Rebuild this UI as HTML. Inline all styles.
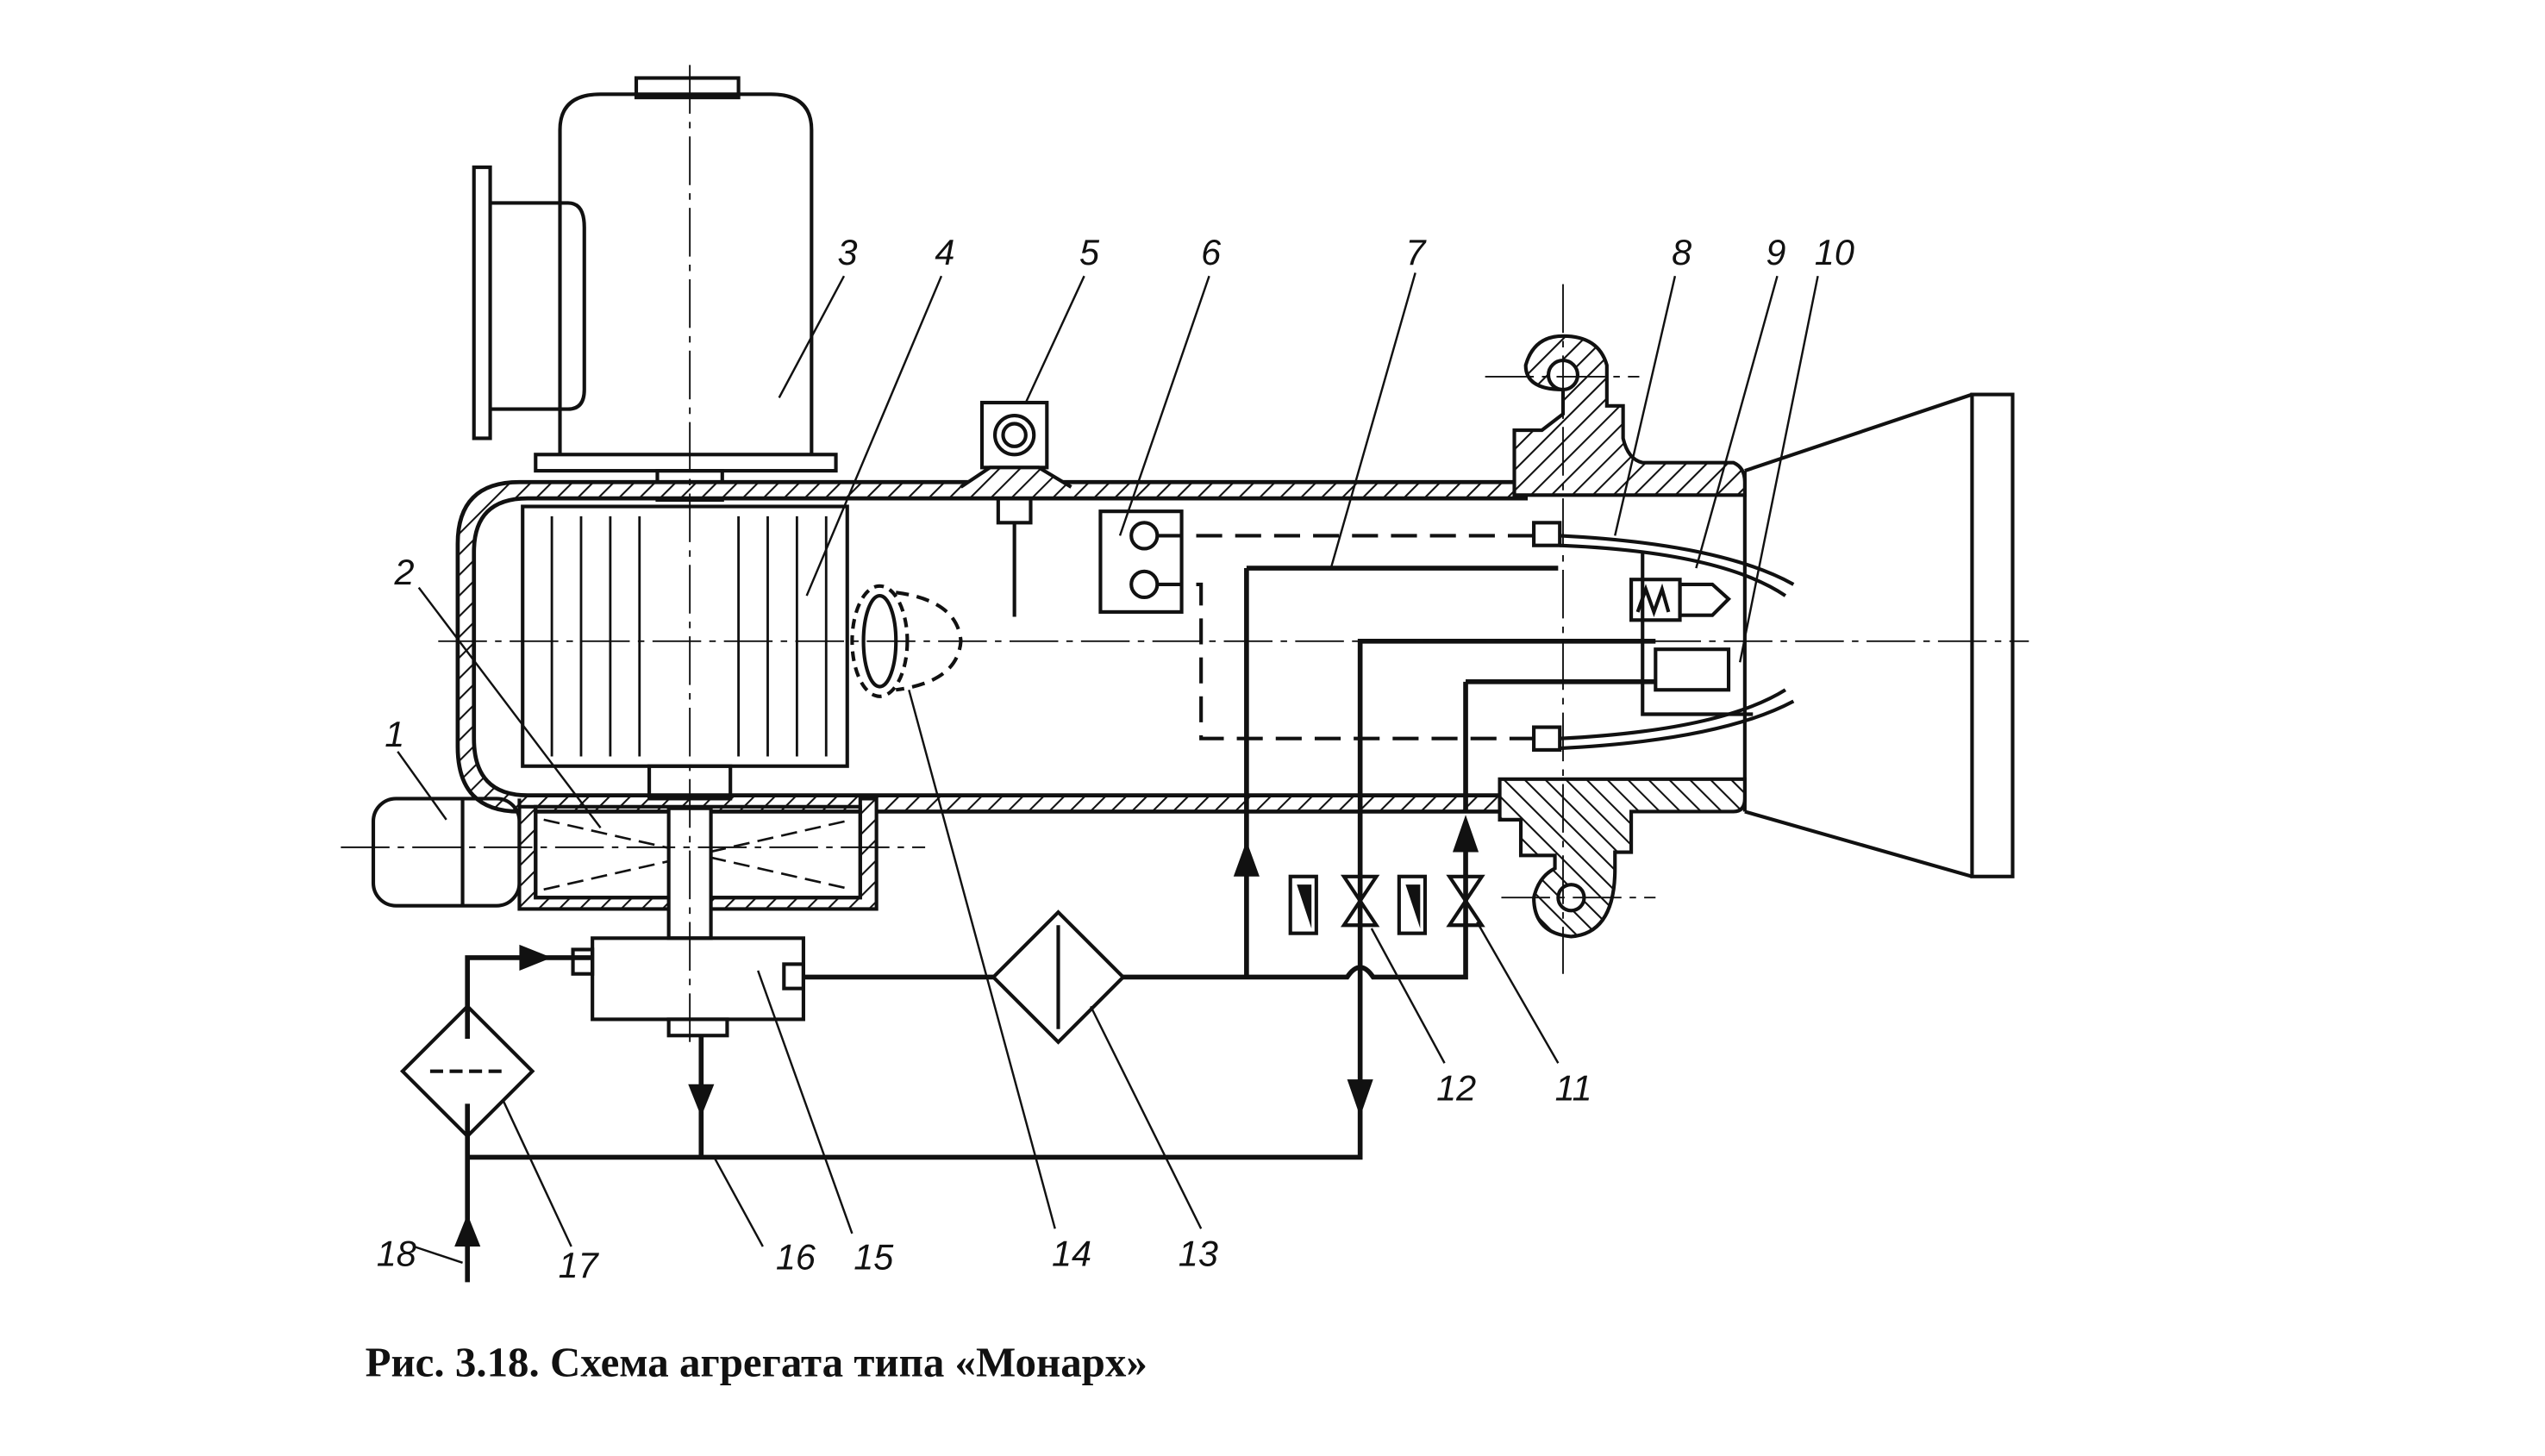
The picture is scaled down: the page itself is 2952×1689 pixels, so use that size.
<!DOCTYPE html>
<html><head><meta charset="utf-8"><style>
html,body{margin:0;padding:0;background:#fff;}
svg{display:block}
text{font-family:"Liberation Sans",sans-serif;font-style:italic;font-size:22px;fill:#111}
</style></head><body>
<svg width="2952" height="1689" viewBox="0 0 1568 897" xmlns="http://www.w3.org/2000/svg">
<defs>
<pattern id="h" width="9" height="9" patternUnits="userSpaceOnUse" patternTransform="rotate(45)">
<rect width="9" height="9" fill="#fff"/><line x1="0" y1="0" x2="0" y2="9" stroke="#111" stroke-width="2.2"/></pattern>
<pattern id="h2" width="9" height="9" patternUnits="userSpaceOnUse" patternTransform="rotate(-45)">
<rect width="9" height="9" fill="#fff"/><line x1="0" y1="0" x2="0" y2="9" stroke="#111" stroke-width="2.2"/></pattern>
</defs>
<g fill="none" stroke="#111" stroke-width="2.2">
<!-- motor 3 -->
<path d="M345 280 V80 Q345 58 370 58 H475 Q500 58 500 80 V280"/>
<rect x="392" y="48" width="63" height="12"/>
<rect x="330" y="280" width="185" height="10"/>
<rect x="292" y="103" width="10" height="167"/>
<path d="M302 125 H350 Q360 125 360 140 V240 Q360 252 350 252 H302"/>
<rect x="405" y="290" width="40" height="18"/>
<!-- housing walls hatched -->
<path d="M940 297 H320 Q282 297 282 335 V460 Q282 500 320 500 H940 V490 H325 Q292 490 292 455 V340 Q292 307 325 307 H940 Z" fill="url(#h)" stroke-width="2.5"/>
<path d="M1075 290 V500"/>
<!-- top flange -->
<path d="M933 297 V265 H950 L963 255 V240 Q940 240 940 225 Q945 207 963 207 Q985 207 990 225 V250 H1000 V270 Q1003 283 1012 285 H1068 Q1075 288 1075 297 V305 H933 Z" fill="url(#h)"/>
<circle cx="963" cy="231" r="9" fill="#fff"/>
<!-- bottom flange -->
<path d="M924 480 H1075 V492 Q1075 500 1068 500 H1005 V525 H995 V535 Q995 575 968 577 Q945 575 945 553 Q948 540 958 535 V527 H937 V505 H924 Z" fill="url(#h2)"/>
<circle cx="968" cy="553" r="8" fill="#fff"/>
<!-- fan 4 -->
<rect x="322" y="312" width="200" height="160" fill="#fff"/>
<g stroke-width="1.5"><path d="M340 318V466M358 318V466M376 318V466M394 318V466M455 318V466M473 318V466M491 318V466M509 318V466"/></g>
<rect x="400" y="472" width="50" height="20"/>
<!-- pump 2 -->
<path d="M320 492 V560 H540 V492 H530 V553 H330 V497 H320 Z" fill="url(#h)"/>
<rect x="330" y="497" width="200" height="56"/>
<path d="M335 505 L525 548 M335 548 L525 505" stroke-dasharray="10 5" stroke-width="1.4"/>
<rect x="230" y="492" width="90" height="66" rx="14"/>
<path d="M285 492 V558"/>
<rect x="412" y="498" width="26" height="80" fill="#fff"/>
<!-- 15 -->
<rect x="365" y="578" width="130" height="50"/>
<rect x="353" y="585" width="12" height="15"/>
<rect x="483" y="594" width="12" height="15"/>
<rect x="412" y="628" width="36" height="10"/>
<!-- 14 -->
<ellipse cx="542" cy="395" rx="10" ry="28"/>
<ellipse cx="542" cy="395" rx="17" ry="34" stroke-dasharray="6 4"/>
<path d="M552 365 Q590 370 592 395 Q590 420 552 425" stroke-dasharray="8 5"/>
<!-- 5 -->
<rect x="605" y="248" width="40" height="40"/>
<circle cx="625" cy="268" r="12"/><circle cx="625" cy="268" r="7"/>
<path d="M592 300 L610 288 H640 L660 300" fill="url(#h)"/>
<rect x="615" y="307" width="20" height="15"/>
<path d="M625 322 V380"/>
<!-- 6 -->
<rect x="678" y="315" width="50" height="62"/>
<circle cx="705" cy="330" r="8"/><circle cx="705" cy="360" r="8"/>
<path d="M713 330 H945 M713 360 H740 V455 H945" stroke-dasharray="16 8"/>
<rect x="945" y="322" width="16" height="14"/><rect x="945" y="448" width="16" height="14"/>
<!-- burner -->
<path d="M961 330 Q1060 335 1105 360 M961 336 Q1060 340 1100 367"/>
<path d="M961 455 Q1060 450 1100 425 M961 461 Q1060 456 1105 432"/>
<rect x="1005" y="357" width="30" height="25"/>
<path d="M1009 377 L1014 363 L1019 377 L1024 363 L1028 377"/>
<path d="M1035 360 H1055 L1065 369 L1055 379 H1035 Z"/>
<rect x="1020" y="400" width="45" height="25"/>
<path d="M1012 340 V440 H1080"/>
<path d="M1075 290 L1215 243 M1075 500 L1215 540"/>
<rect x="1215" y="243" width="25" height="297"/>
<!-- pipes -->
<g stroke-width="3">
<path d="M495 602 H830 Q838 590 846 602 H903 V520"/>
<path d="M768 602 V500 M768 350 H960"/>
<path d="M288 713 H838 V395 H1020"/>
<path d="M903 420 H1020 M903 420 V500"/>
<path d="M768 500 V350"/>
<path d="M288 790 V680 M288 640 V590 H365"/>
<path d="M432 638 V713"/>
</g>
<!-- diamonds -->
<path d="M288 620 L328 660 L288 700 L248 660 Z"/>
<path d="M265 660 H311" stroke-dasharray="8 4"/>
<path d="M652 562 L692 602 L652 642 L612 602 Z" fill="#fff"/>
<path d="M652 570 V634"/>
<!-- valves -->
<path d="M828 540 L848 570 L828 570 L848 540 Z"/>
<path d="M893 540 L913 570 L893 570 L913 540 Z"/>
<rect x="795" y="540" width="16" height="35"/><rect x="862" y="540" width="16" height="35"/>
<!-- centerlines -->
<g stroke-width="1" stroke-dasharray="30 5 4 5">
<path d="M425 40 V645 M210 522 H570 M270 395 H1250 M963 175 V600 M915 232 H1010 M925 553 H1020"/>
</g>
<!-- leaders -->
<g stroke-width="1.3">
<path d="M245 463 L275 505 M258 362 L370 510 M480 245 L520 170 M497 367 L580 170 M632 248 L668 170 M690 330 L745 170 M820 350 L872 168 M995 330 L1032 170 M1045 350 L1095 170 M1072 408 L1120 170 M467 598 L525 760 M560 425 L650 757 M672 620 L740 757 M310 678 L352 768 M440 713 L470 768 M845 572 L890 655 M910 568 L960 655 M255 768 L285 778"/>
</g>
</g>
<!-- arrowheads -->
<g fill="#111">
<path d="M320 582 L340 590 L320 598 Z"/>
<path d="M424 668 L432 688 L440 668 Z"/>
<path d="M830 665 L838 688 L846 665 Z"/>
<path d="M760 540 L768 518 L776 540 Z"/>
<path d="M895 525 L903 502 L911 525 Z"/>
<path d="M280 768 L288 748 L296 768 Z"/>
<path d="M799 545 L808 545 L808 572 Z"/><path d="M866 545 L875 545 L875 572 Z"/>
</g>
<text x="237" y="460">1</text><text x="243" y="360">2</text><text x="516" y="163">3</text>
<text x="576" y="163">4</text><text x="665" y="163">5</text><text x="740" y="163">6</text>
<text x="866" y="163">7</text><text x="1030" y="163">8</text><text x="1088" y="163">9</text>
<text x="1118" y="163">10</text><text x="958" y="678">11</text><text x="885" y="678">12</text>
<text x="726" y="780">13</text><text x="648" y="780">14</text><text x="526" y="782">15</text>
<text x="478" y="782">16</text><text x="344" y="787">17</text><text x="232" y="780">18</text>
<text x="225" y="848" style="font-family:'Liberation Serif',serif;font-style:normal;font-weight:bold;font-size:26px">Рис. 3.18. Схема агрегата типа «Монарх»</text>
</svg>
</body></html>
